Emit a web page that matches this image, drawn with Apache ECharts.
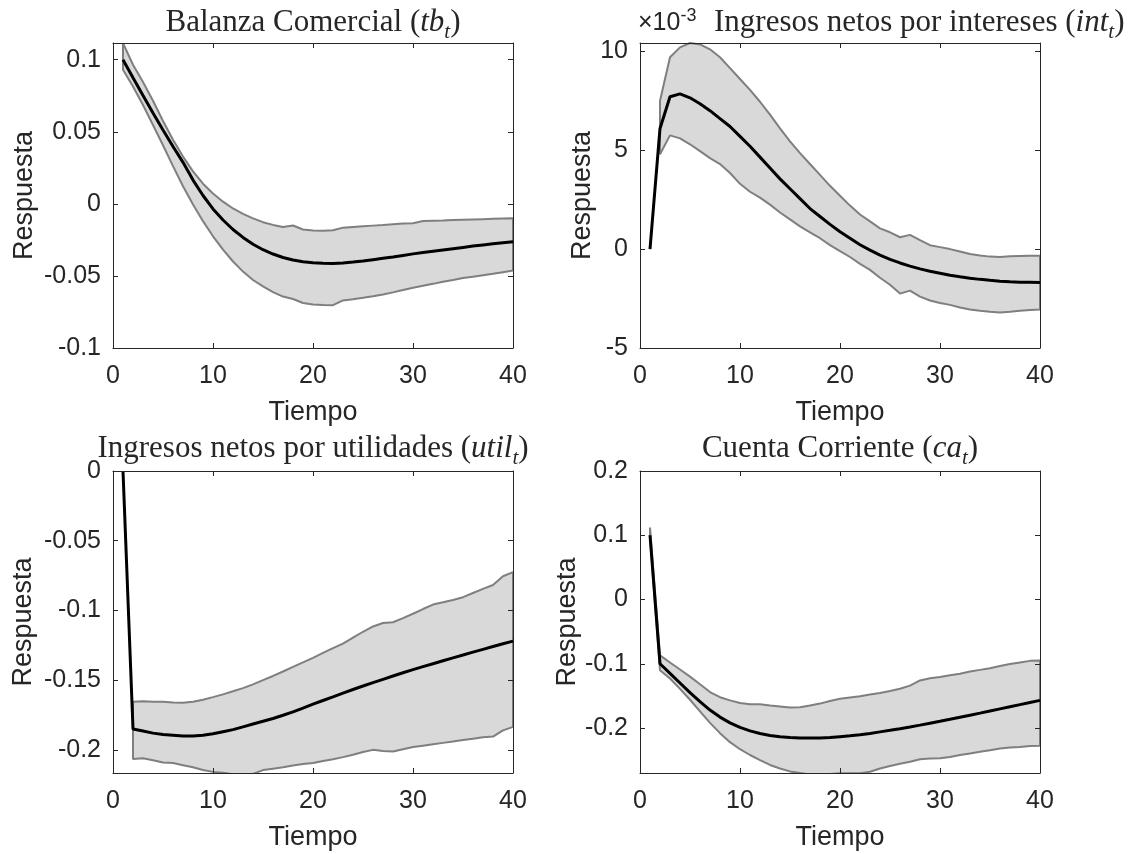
<!DOCTYPE html>
<html><head><meta charset="utf-8">
<script src="https://cdn.jsdelivr.net/npm/echarts@6/dist/echarts.min.js"></script>
<style>html,body{margin:0;padding:0;background:#fff}#c{width:1136px;height:854px}</style>
</head><body><div id="c"></div>
<script>
// ---- data ----
const tiempo = [1,2,3,4,5,6,7,8,9,10,11,12,13,14,15,16,17,18,19,20,21,22,23,24,25,26,27,28,29,30,31,32,33,34,35,36,37,38,39,40];
const xTicks = [0,10,20,30,40];

// Balanza Comercial (tb_t)
const tbMean  = [0.100,0.0875,0.0752,0.063,0.0512,0.0398,0.0288,0.0165,0.0058,-0.0035,-0.0112,-0.0178,-0.0233,-0.028,-0.0318,-0.0348,-0.0372,-0.0389,-0.0401,-0.0408,-0.0412,-0.0413,-0.041,-0.0404,-0.0396,-0.0387,-0.0378,-0.0369,-0.0358,-0.0347,-0.0338,-0.0329,-0.032,-0.0311,-0.0302,-0.0293,-0.0285,-0.0277,-0.027,-0.0263];
const tbUpper = [0.1115,0.0965,0.0845,0.0715,0.0575,0.0445,0.0328,0.0225,0.014,0.0072,0.0015,-0.0032,-0.007,-0.0101,-0.0127,-0.0146,-0.016,-0.015,-0.0178,-0.0184,-0.0186,-0.0183,-0.0165,-0.016,-0.0155,-0.0151,-0.0147,-0.0141,-0.0136,-0.0134,-0.0119,-0.0117,-0.0115,-0.0112,-0.011,-0.0108,-0.0106,-0.0104,-0.0102,-0.0100];
const tbLower = [0.093,0.0814,0.0686,0.0547,0.0407,0.0262,0.0122,-0.0005,-0.012,-0.0225,-0.0318,-0.040,-0.047,-0.0528,-0.0573,-0.0612,-0.0643,-0.066,-0.0688,-0.0698,-0.0702,-0.0703,-0.067,-0.0662,-0.0652,-0.0641,-0.0629,-0.0614,-0.0598,-0.0582,-0.0568,-0.0555,-0.054,-0.0528,-0.0515,-0.0505,-0.0495,-0.0485,-0.0474,-0.0463];
const tbTicks = [-0.1,-0.05,0,0.05,0.1];

// Ingresos netos por intereses (int_t), in units of 10^-3
const intMean  = [0,6.1,7.7,7.85,7.65,7.35,7.0,6.6,6.2,5.7,5.2,4.65,4.1,3.55,3.05,2.55,2.05,1.65,1.25,0.88,0.55,0.22,-0.05,-0.3,-0.52,-0.7,-0.86,-1.0,-1.12,-1.22,-1.32,-1.4,-1.47,-1.53,-1.58,-1.62,-1.65,-1.67,-1.68,-1.69];
const intUpper = [null,7.5,9.7,10.2,10.42,10.35,10.1,9.7,9.15,8.6,8.05,7.45,6.8,6.1,5.45,4.85,4.3,3.75,3.2,2.7,2.2,1.75,1.4,1.05,0.85,0.6,0.72,0.45,0.2,0.1,0.0,-0.12,-0.25,-0.32,-0.38,-0.4,-0.36,-0.35,-0.34,-0.33];
const intLower = [null,4.8,5.75,5.6,5.3,4.95,4.6,4.3,3.85,3.3,2.9,2.6,2.25,1.85,1.5,1.15,0.85,0.55,0.2,-0.1,-0.4,-0.75,-1.05,-1.45,-1.8,-2.25,-2.1,-2.4,-2.6,-2.72,-2.82,-2.95,-3.05,-3.12,-3.17,-3.2,-3.17,-3.12,-3.08,-3.05];
const intTicks = [-5,0,5,10];

// Ingresos netos por utilidades (util_t)
const utilMean  = [0,-0.185,-0.1865,-0.188,-0.189,-0.1895,-0.19,-0.19,-0.1895,-0.1885,-0.187,-0.1855,-0.1835,-0.1815,-0.1795,-0.1775,-0.1752,-0.1728,-0.170,-0.1672,-0.1646,-0.162,-0.1593,-0.1567,-0.1542,-0.1518,-0.1494,-0.147,-0.1447,-0.1425,-0.1403,-0.1382,-0.1361,-0.134,-0.132,-0.1299,-0.1279,-0.1259,-0.1239,-0.122];
const utilUpper = [null,-0.1655,-0.1652,-0.1655,-0.1655,-0.166,-0.1663,-0.1655,-0.164,-0.1622,-0.1602,-0.158,-0.1557,-0.153,-0.150,-0.147,-0.1438,-0.1405,-0.1372,-0.134,-0.1305,-0.127,-0.1238,-0.1195,-0.1153,-0.1115,-0.109,-0.1085,-0.1055,-0.1024,-0.099,-0.0958,-0.0942,-0.0925,-0.0905,-0.0875,-0.0845,-0.0818,-0.0755,-0.0725];
const utilLower = [null,-0.2065,-0.206,-0.2075,-0.209,-0.2095,-0.211,-0.2125,-0.2145,-0.2158,-0.2165,-0.2175,-0.2182,-0.2172,-0.2145,-0.2135,-0.2125,-0.2112,-0.2102,-0.2095,-0.208,-0.2068,-0.2052,-0.2035,-0.2015,-0.200,-0.2008,-0.2012,-0.1995,-0.198,-0.197,-0.196,-0.195,-0.194,-0.193,-0.192,-0.191,-0.1905,-0.186,-0.1835];
const utilTicks = [-0.2,-0.15,-0.1,-0.05,0];

// Cuenta Corriente (ca_t)
const caMean  = [0.1,-0.1,-0.115,-0.13,-0.145,-0.159,-0.172,-0.183,-0.192,-0.199,-0.2045,-0.2085,-0.2115,-0.2135,-0.2148,-0.2155,-0.2157,-0.2155,-0.2148,-0.2135,-0.2122,-0.2105,-0.2084,-0.206,-0.2036,-0.201,-0.1983,-0.1955,-0.1925,-0.1895,-0.1864,-0.1832,-0.18,-0.1768,-0.1735,-0.1702,-0.1669,-0.1636,-0.1603,-0.157];
const caUpper = [0.112,-0.087,-0.098,-0.109,-0.12,-0.132,-0.144,-0.152,-0.157,-0.161,-0.163,-0.163,-0.165,-0.1665,-0.168,-0.1675,-0.165,-0.162,-0.158,-0.1545,-0.1525,-0.1505,-0.148,-0.1455,-0.1425,-0.139,-0.134,-0.126,-0.1225,-0.1205,-0.118,-0.1155,-0.112,-0.1095,-0.107,-0.1035,-0.1005,-0.098,-0.0955,-0.095];
const caLower = [0.098,-0.11,-0.123,-0.139,-0.156,-0.174,-0.192,-0.208,-0.222,-0.233,-0.242,-0.25,-0.2575,-0.263,-0.2675,-0.27,-0.2725,-0.2725,-0.2715,-0.2705,-0.2705,-0.2705,-0.268,-0.263,-0.259,-0.2555,-0.2525,-0.2485,-0.2475,-0.247,-0.245,-0.242,-0.2395,-0.237,-0.2345,-0.232,-0.2305,-0.2295,-0.228,-0.2275];
const caTicks = [-0.2,-0.1,0,0.1,0.2];

// ---- chart ----
const INK = '#262626';
const SANS = 'Liberation Sans, Arial, sans-serif';
const SERIF = 'Liberation Serif, Times New Roman, serif';

const panels = [
  {mean: tbMean, up: tbUpper, lo: tbLower, ticks: tbTicks, min: -0.1, max: 0.1116,
   grid: {left: 113, top: 43, width: 400, height: 305}, yGap: 75},
  {mean: intMean, up: intUpper, lo: intLower, ticks: intTicks, min: -5, max: 10.42,
   grid: {left: 640, top: 43, width: 400, height: 305}, yGap: 43},
  {mean: utilMean, up: utilUpper, lo: utilLower, ticks: utilTicks, min: -0.2166, max: 0,
   grid: {left: 113, top: 471, width: 400, height: 302}, yGap: 76},
  {mean: caMean, up: caUpper, lo: caLower, ticks: caTicks, min: -0.27, max: 0.2,
   grid: {left: 640, top: 471, width: 400, height: 302}, yGap: 59}
];

const grids = [], xAxes = [], yAxes = [], series = [];
const fmt = v => String(Math.round(v * 1000) / 1000);

panels.forEach((p, i) => {
  grids.push(Object.assign({show: false}, p.grid));
  const lineStyle = {color: INK, width: 1};
  const tick = {show: true, inside: true, length: 5, lineStyle: {color: INK, width: 1}};
  xAxes.push({
    gridIndex: i, type: 'value', min: 0, max: 40, interval: 10, position: 'bottom', z: 10,
    axisLine: {show: true, onZero: false, lineStyle},
    axisTick: Object.assign({customValues: xTicks}, tick), splitLine: {show: false},
    axisLabel: {customValues: xTicks, fontSize: 25, color: INK, fontFamily: SANS, margin: 16},
    name: 'Tiempo', nameLocation: 'middle', nameGap: 51,
    nameTextStyle: {fontSize: 27, color: INK, fontFamily: SANS}
  });
  xAxes.push({
    gridIndex: i, type: 'value', min: 0, max: 40, interval: 10, position: 'top', z: 10,
    axisLine: {show: true, onZero: false, lineStyle},
    axisTick: Object.assign({customValues: xTicks}, tick), splitLine: {show: false}, axisLabel: {show: false}
  });
  yAxes.push({
    gridIndex: i, type: 'value', min: p.min, max: p.max, position: 'left', z: 10,
    axisLine: {show: true, onZero: false, lineStyle},
    axisTick: Object.assign({customValues: p.ticks}, tick), splitLine: {show: false},
    axisLabel: {customValues: p.ticks, fontSize: 25, color: INK, fontFamily: SANS, margin: 12, formatter: fmt},
    name: 'Respuesta', nameLocation: 'middle', nameGap: p.yGap,
    nameTextStyle: {fontSize: 27, color: INK, fontFamily: SANS}
  });
  yAxes.push({
    gridIndex: i, type: 'value', min: p.min, max: p.max, position: 'right', z: 10,
    axisLine: {show: true, onZero: false, lineStyle},
    axisTick: Object.assign({customValues: p.ticks}, tick), splitLine: {show: false},
    axisLabel: {show: false}
  });

  const lowPairs = [], upPairs = [];
  tiempo.forEach((t, k) => {
    if (p.lo[k] == null || p.up[k] == null) return;
    lowPairs.push([t, p.lo[k]]);
    upPairs.push([t, p.up[k]]);
  });
  const outline = upPairs.concat(lowPairs.slice().reverse(), [upPairs[0]]);
  const meanPairs = tiempo.map((t, k) => [t, p.mean[k]]);
  const ax = {xAxisIndex: 2 * i, yAxisIndex: 2 * i};

  // band fill: grey below the upper bound, then white below the lower bound
  series.push(Object.assign({type: 'line', data: upPairs, symbol: 'none',
    lineStyle: {opacity: 0}, areaStyle: {color: '#d9d9d9', opacity: 1, origin: 'start'}, silent: true, z: 2}, ax));
  series.push(Object.assign({type: 'line', data: lowPairs, symbol: 'none',
    lineStyle: {opacity: 0}, areaStyle: {color: '#ffffff', opacity: 1, origin: 'start'}, silent: true, z: 3}, ax));
  series.push(Object.assign({type: 'line', data: outline, symbol: 'none',
    lineStyle: {color: '#7f7f7f', width: 2}, silent: true, z: 4}, ax));
  series.push(Object.assign({type: 'line', data: meanPairs, symbol: 'none',
    lineStyle: {color: '#000000', width: 3}, silent: true, z: 5}, ax));
});

const base = {fontFamily: SERIF, fontSize: 31, color: INK, fontWeight: 'normal', lineHeight: 40};
const rich = {
  n: base,
  i: Object.assign({}, base, {fontStyle: 'italic'}),
  s: {fontFamily: SERIF, fontSize: 21, color: INK, fontWeight: 'normal', fontStyle: 'italic', lineHeight: 21, verticalAlign: 'bottom'}
};
const titles = [
  {text: '{n|Balanza Comercial (}{i|tb}{s|t}{n|)}', left: 313, top: 3, textAlign: 'center'},
  {text: '{n|Ingresos netos por intereses (}{i|int}{s|t}{n|)}', left: 714, top: 3, textAlign: 'left'},
  {text: '{n|Ingresos netos por utilidades (}{i|util}{s|t}{n|)}', left: 313, top: 429, textAlign: 'center'},
  {text: '{n|Cuenta Corriente (}{i|ca}{s|t}{n|)}', left: 840, top: 429, textAlign: 'center'}
].map(t => ({text: t.text, left: t.left, top: t.top, textAlign: t.textAlign, padding: 0,
  textStyle: {fontWeight: 'normal', rich: rich}}));
titles.push({
  text: '{a|×10}{b|-3}', left: 638, top: 7, padding: 0,
  textStyle: {fontWeight: 'normal', rich: {
    a: {fontFamily: SANS, fontSize: 25, color: INK, fontWeight: 'normal', lineHeight: 32},
    b: {fontFamily: SANS, fontSize: 18, color: INK, fontWeight: 'normal', lineHeight: 18, verticalAlign: 'top'}
  }}
});

const chart = echarts.init(document.getElementById('c'), null, {renderer: 'canvas'});
chart.setOption({
  animation: false,
  backgroundColor: '#ffffff',
  title: titles,
  grid: grids, xAxis: xAxes, yAxis: yAxes, series: series
});
</script></body></html>
